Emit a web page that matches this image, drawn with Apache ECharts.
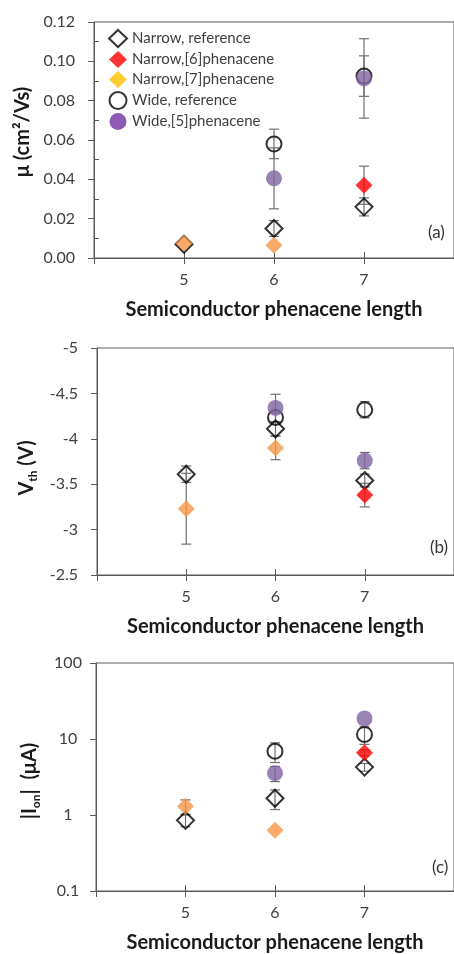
<!DOCTYPE html>
<html>
<head>
<meta charset="utf-8">
<script src="https://cdn.jsdelivr.net/npm/echarts@6/dist/echarts.min.js"></script>
<style>
html,body{margin:0;padding:0;background:#fff;}
#chart{width:454px;height:954px;}
</style>
</head>
<body>
<div id="chart"></div>
<script>
// ---------- data ----------
var lengths = [5, 6, 7];
var seriesNames = ['Narrow, reference', 'Narrow,[6]phenacene', 'Narrow,[7]phenacene', 'Wide, reference', 'Wide,[5]phenacene'];

// (a) mobility (cm2/Vs)
var muNarrowRef = [0.007, 0.015, 0.026];
var muNarrow6   = [null, null, 0.037];
var muNarrow7   = [0.0075, 0.0065, null];
var muWideRef   = [null, 0.058, 0.0925];
var muWide5     = [null, 0.0405, 0.0913];
var muNarrowRefErr = [0, 0.004, 0.0046];
var muNarrow6Err   = [null, null, 0.0097];
var muNarrow7Err   = [0, 0, null];
var muWideRefErr   = [null, 0.0075, 0.0103];
var muWide5Err     = [null, 0.0155, 0.0202];

// (b) threshold voltage (V)
var vNarrowRef = [-3.61, -4.11, -3.54];
var vNarrow6   = [null, null, -3.38];
var vNarrow7   = [-3.23, -3.90, null];
var vWideRef   = [null, -4.235, -4.32];
var vWide5     = [null, -4.34, -3.76];
var vNarrowRefErr = [0.09, 0.08, 0.07];
var vNarrow6Err   = [null, null, 0.13];
var vNarrow7Err   = [0.39, 0.13, null];
var vWideRefErr   = [null, 0.05, 0.09];
var vWide5Err     = [null, 0.15, 0.09];

// (c) on current (uA)
var iNarrowRef = [0.85, 1.66, 4.27];
var iNarrow6   = [null, null, 6.6];
var iNarrow7   = [1.3, 0.63, null];
var iWideRef   = [null, 6.9, 11.5];
var iWide5     = [null, 3.55, 18.6];
var iNarrowRefErr = [0.15, 0.48, 0.5];
var iNarrow6Err   = [null, null, 0.6];
var iNarrow7Err   = [0.28, 0, null];
var iWideRefErr   = [null, 2.0, 3.0];
var iWide5Err     = [null, 0.8, 0];

var muMinorTicks = [0.01, 0.03, 0.05, 0.07, 0.09, 0.11];

// ---------- styles ----------
var FONT = 'Lato';
var AX = '#595959';
var TXT = '#404040';
var styles = [
  {symbol: 'diamond', symbolSize: [17, 17], itemStyle: {color: 'rgba(0,0,0,0)', borderColor: '#000', borderWidth: 2}},
  {symbol: 'diamond', symbolSize: [17, 17], itemStyle: {color: '#FF0000'}},
  {symbol: 'diamond', symbolSize: [17, 17], itemStyle: {color: '#F79646'}},
  {symbol: 'circle', symbolSize: 15, itemStyle: {color: 'rgba(0,0,0,0)', borderColor: '#000', borderWidth: 2}},
  {symbol: 'circle', symbolSize: 16, itemStyle: {color: '#8064A2'}}
];

var grids = [
  {left: 94, top: 22, width: 370, height: 236},
  {left: 97, top: 348, width: 370, height: 227},
  {left: 96, top: 663, width: 370, height: 230}
];

function pairs(vals) {
  return lengths.map(function (x, i) { return vals[i] == null ? null : [x, vals[i]]; }).filter(function (d) { return d; });
}
function errRows(valsList, errList) {
  var rows = [];
  valsList.forEach(function (vals, s) {
    lengths.forEach(function (x, i) {
      if (vals[i] != null && errList[s][i]) rows.push([x, vals[i], errList[s][i]]);
    });
  });
  return rows;
}

var panels = [
  {vals: [muNarrowRef, muNarrow6, muNarrow7, muWideRef, muWide5], errs: [muNarrowRefErr, muNarrow6Err, muNarrow7Err, muWideRefErr, muWide5Err]},
  {vals: [vNarrowRef, vNarrow6, vNarrow7, vWideRef, vWide5], errs: [vNarrowRefErr, vNarrow6Err, vNarrow7Err, vWideRefErr, vWide5Err]},
  {vals: [iNarrowRef, iNarrow6, iNarrow7, iWideRef, iWide5], errs: [iNarrowRefErr, iNarrow6Err, iNarrow7Err, iWideRefErr, iWide5Err]}
];

var xAxes = [], yAxes = [], series = [];
var titleStyle = {fontFamily: FONT, fontWeight: 'bold', fontSize: 20, color: '#1a1a1a'};
var richSub = {
  m: {fontFamily: FONT, fontWeight: 'bold', fontSize: 20, color: '#1a1a1a', lineHeight: 24, verticalAlign: 'middle'},
  s: {fontFamily: FONT, fontWeight: 'bold', fontSize: 12, color: '#1a1a1a', lineHeight: 12, verticalAlign: 'bottom'}
};

grids.forEach(function (g, p) {
  xAxes.push({
    gridIndex: p, type: 'value', min: 4, max: 8, interval: 1,
    name: 'Semiconductor phenacene length', nameLocation: 'middle', nameGap: 42,
    nameTextStyle: titleStyle,
    axisLine: {lineStyle: {color: AX, width: 1}},
    axisTick: {show: true, length: 6, lineStyle: {color: AX}, customValues: [4, 5, 6, 7]},
    axisLabel: {fontFamily: FONT, fontSize: 16, color: TXT, margin: 14, customValues: lengths},
    splitLine: {show: false}
  });
  xAxes.push({
    gridIndex: p, type: 'value', min: 4, max: 8, position: 'bottom',
    axisLine: {show: false},
    axisTick: {show: true, inside: true, length: 6, lineStyle: {color: AX}, customValues: lengths},
    axisLabel: {show: false}, splitLine: {show: false}
  });
});

yAxes.push({
  gridIndex: 0, type: 'value', min: 0, max: 0.12, interval: 0.02, position: 'left',
  name: 'μ (cm²/Vs)', nameLocation: 'middle', nameGap: 61,
  nameTextStyle: Object.assign({padding: [0, 0, 0, 16]}, titleStyle),
  axisLine: {show: true, lineStyle: {color: AX}},
  axisTick: {show: true, length: 6, lineStyle: {color: AX}},
  axisLabel: {fontFamily: FONT, fontSize: 16, color: TXT, margin: 19, formatter: function (v) { return v.toFixed(2); }},
  splitLine: {show: false}
});
yAxes.push({
  gridIndex: 0, type: 'value', min: 0, max: 0.12, position: 'left', offset: 0,
  axisLine: {show: false},
  axisTick: {show: true, inside: true, length: 5, lineStyle: {color: AX}, customValues: muMinorTicks},
  axisLabel: {show: false}, splitLine: {show: false}
});
yAxes.push({
  gridIndex: 1, type: 'value', min: -5, max: -2.5, interval: 0.5, inverse: true,
  name: '{m|V}{s|th}{m| (V)}', nameLocation: 'middle', nameGap: 58,
  nameTextStyle: {fontFamily: FONT, fontWeight: 'bold', fontSize: 20, color: '#1a1a1a', rich: richSub, padding: [0, 13, 0, 0]},
  axisLine: {show: true, lineStyle: {color: AX}},
  axisTick: {show: true, length: 6, lineStyle: {color: AX}},
  axisLabel: {fontFamily: FONT, fontSize: 16, color: TXT, margin: 19},
  splitLine: {show: false}
});
yAxes.push({
  gridIndex: 2, type: 'log', logBase: 10, min: 0.1, max: 100,
  name: '{m|\u007CI}{s|on}{m|\u007C  (μA)}', nameLocation: 'middle', nameGap: 54,
  nameTextStyle: {fontFamily: FONT, fontWeight: 'bold', fontSize: 20, color: '#1a1a1a', rich: richSub, padding: [0, 8, 0, 0]},
  axisLine: {show: true, lineStyle: {color: AX}},
  axisTick: {show: true, length: 6, lineStyle: {color: AX}},
  axisLabel: {fontFamily: FONT, fontSize: 16, color: TXT, margin: 28, align: 'center',
    formatter: function (v) { return String(+v.toPrecision(3)); }},
  splitLine: {show: false}, minorTick: {show: false}
});

var yMainIndex = [0, 2, 3];

panels.forEach(function (pan, p) {
  series.push({
    type: 'custom', xAxisIndex: p * 2, yAxisIndex: yMainIndex[p], z: 1, silent: true,
    data: errRows(pan.vals, pan.errs),
    renderItem: function (params, api) {
      var x = api.value(0), y = api.value(1), e = api.value(2);
      var lo = y - e;
      if (p === 2 && lo <= 0) lo = y * 0.5;
      var top = api.coord([x, y + e]);
      var bot = api.coord([x, lo]);
      var hw = 5;
      var st = {stroke: '#707070', lineWidth: 1.2};
      return {type: 'group', children: [
        {type: 'line', shape: {x1: top[0], y1: top[1], x2: bot[0], y2: bot[1]}, style: st},
        {type: 'line', shape: {x1: top[0] - hw, y1: top[1], x2: top[0] + hw, y2: top[1]}, style: st},
        {type: 'line', shape: {x1: bot[0] - hw, y1: bot[1], x2: bot[0] + hw, y2: bot[1]}, style: st}
      ]};
    }
  });
  pan.vals.forEach(function (vals, s) {
    series.push({
      type: 'scatter', name: seriesNames[s], xAxisIndex: p * 2, yAxisIndex: yMainIndex[p], z: 3,
      symbol: styles[s].symbol, symbolSize: styles[s].symbolSize, itemStyle: styles[s].itemStyle,
      data: pairs(vals), emphasis: {disabled: true}
    });
  });
});

var option = {
  animation: false,
  backgroundColor: '#fff',
  grid: grids.map(function (g) { return Object.assign({show: true, borderColor: AX, borderWidth: 1, containLabel: false}, g); }),
  xAxis: xAxes,
  yAxis: yAxes,
  legend: {
    orient: 'vertical', left: 103, top: 24, itemWidth: 18, itemHeight: 17, itemGap: 3,
    selectedMode: false,
    textStyle: {fontFamily: FONT, fontSize: 15, color: TXT},
    data: [
      {name: seriesNames[0]},
      {name: seriesNames[1]},
      {name: seriesNames[2], itemStyle: {color: '#FFC000'}},
      {name: seriesNames[3]},
      {name: seriesNames[4], itemStyle: {color: '#7030A0'}}
    ]
  },
  graphic: [
    {type: 'text', left: 428, top: 224, style: {text: '(a)', fontFamily: FONT, fontSize: 17, fill: '#333'}},
    {type: 'text', left: 430, top: 539, style: {text: '(b)', fontFamily: FONT, fontSize: 17, fill: '#333'}},
    {type: 'text', left: 432, top: 859, style: {text: '(c)', fontFamily: FONT, fontSize: 17, fill: '#333'}}
  ],
  series: series
};

var chart = echarts.init(document.getElementById('chart'), null, {renderer: 'canvas'});
chart.setOption(option);
</script>
</body>
</html>
